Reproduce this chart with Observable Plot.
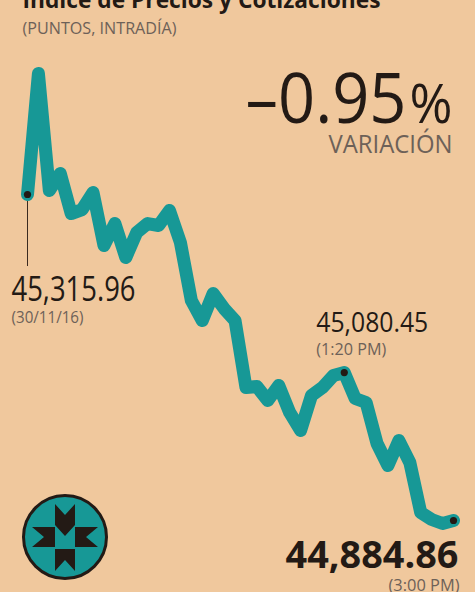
<!DOCTYPE html>
<html><head><meta charset="utf-8">
<script src="https://cdn.jsdelivr.net/npm/d3@7"></script>
<script src="https://cdn.jsdelivr.net/npm/@observablehq/plot@0.6"></script>
<style>
html,body{margin:0;padding:0;background:#f0c89d;}
#chart{position:relative;width:475px;height:592px;overflow:hidden;background:#f0c89d;}
#chart > #plotwrap{position:absolute;left:0;top:0;}
#chart > #logo{position:absolute;left:20px;top:491.5px;}
</style></head><body>
<div id="chart">
<div id="plotwrap"></div>
<svg id="logo" width="90" height="90" viewBox="-45 -45 90 90">
<circle r="41.5" fill="#179896" stroke="#231a15" stroke-width="3"/>
<path fill="#231a15" d="M-10,-33 L0,-22 L10,-33 L10,-12 L0,-1 L-10,-12Z M-10,12 L10,12 L10,34 L0,23 L-10,34Z M-33,-10 L-10,-10 L-10,10 L-33,10 L-21,0Z M10,-10 L33,-10 L21,0 L33,10 L10,10Z"/>
</svg>
</div>
<script>
const times = ["08:30","08:40","08:50","09:00","09:10","09:20","09:30","09:40","09:50","10:00",
  "10:10","10:20","10:30","10:40","10:50","11:00","11:10","11:20","11:30","11:40",
  "11:50","12:00","12:10","12:20","12:30","12:40","12:50","13:00","13:10","13:20",
  "13:30","13:40","13:50","14:00","14:10","14:20","14:30","14:40","14:50","15:00"];
const values = [45315.96,45476.0,45321.2,45343.7,45290.8,45296.1,45318.6,45248.5,45277.6,45232.6,
  45265.7,45277.6,45275.0,45294.8,45252.5,45175.8,45149.3,45185.0,45165.2,45149.3,
  45060.7,45062.0,45043.6,45063.4,45027.7,45003.9,45050.2,45060.7,45076.6,45080.45,
  45046.2,45040.9,44986.7,44957.6,44990.6,44961.6,44895.4,44886.2,44880.9,44884.86];
const title = "Índice de Precios y Cotizaciones";
const subtitle = "(PUNTOS, INTRADÍA)";
const changeLabel = "VARIACIÓN";
const annTimes = ["08:30","13:20","15:00"];
const annNotes = ["(30/11/16)","(1:20 PM)","(3:00 PM)"];

const parse = d3.timeParse("%H:%M");
const fmt = d3.format(",.2f");
const data = times.map((t,i)=>({time: parse(t), value: values[i]}));
const ann = annTimes.map((t,i)=>{const v = values[times.indexOf(t)]; return {time: parse(t), value: v, note: annNotes[i], label: fmt(v)};});
const first = values[0], last = values[values.length-1];
const pct = ((last/first - 1)*100).toFixed(2).replace("-", "–");

const dark = "#231a15", grey = "#6d6158", teal = "#179896";
const F = "Open Sans";

const plot = Plot.plot({
  width: 475, height: 592,
  marginLeft: 27, marginRight: 22, marginTop: 73, marginBottom: 69,
  x: {type: "time", domain: d3.extent(data, d => d.time), axis: null},
  y: {domain: d3.extent(values), axis: null},
  style: {background: "transparent", overflow: "visible"},
  marks: [
    Plot.text([title], {text: d => d, frameAnchor: "top-left", textAnchor: "start", lineAnchor: "bottom", dx: -5, dy: -66, fontSize: 24, fontWeight: 700, fontFamily: F, fill: dark}),
    Plot.text([subtitle], {text: d => d, frameAnchor: "top-left", textAnchor: "start", lineAnchor: "bottom", dx: -5, dy: -40, fontSize: 16.5, fontFamily: F, fill: grey}),
    Plot.text([pct], {text: d => d, frameAnchor: "top-right", textAnchor: "end", lineAnchor: "bottom", dx: -47, dy: 49, fontSize: 70, fontFamily: F, fill: dark}),
    Plot.text(["%"], {text: d => d, frameAnchor: "top-right", textAnchor: "end", lineAnchor: "bottom", dx: -1, dy: 49, fontSize: 54, fontFamily: F, fill: dark}),
    Plot.text([changeLabel], {text: d => d, frameAnchor: "top-right", textAnchor: "end", lineAnchor: "bottom", dx: -1, dy: 79, fontSize: 26, fontFamily: F, fill: grey}),
    Plot.ruleX([ann[0]], {x: "time", y1: "value", y2: "value", insetBottom: -72, stroke: "#3b2a1f", strokeWidth: 1}),
    Plot.line(data, {x: "time", y: "value", stroke: teal, strokeWidth: 13, strokeLinejoin: "round", strokeLinecap: "round"}),
    Plot.dot(ann, {x: "time", y: "value", r: 3.6, fill: dark, stroke: "none"}),
    Plot.text([ann[0]], {x: "time", y: "value", text: "label", textAnchor: "start", lineAnchor: "bottom", dx: -16, dy: 106, fontSize: 35, fontFamily: F, fill: dark}),
    Plot.text([ann[0]], {x: "time", y: "value", text: "note", textAnchor: "start", lineAnchor: "bottom", dx: -16, dy: 128, fontSize: 15.5, fontFamily: F, fill: grey}),
    Plot.text([ann[1]], {x: "time", y: "value", text: "label", textAnchor: "start", lineAnchor: "bottom", dx: -28, dy: -41, fontSize: 28, fontFamily: F, fill: dark}),
    Plot.text([ann[1]], {x: "time", y: "value", text: "note", textAnchor: "start", lineAnchor: "bottom", dx: -28, dy: -18, fontSize: 16, fontFamily: F, fill: grey}),
    Plot.text([ann[2]], {x: "time", y: "value", text: "label", textAnchor: "end", lineAnchor: "bottom", dx: 5, dy: 47, fontSize: 38, fontWeight: 700, fontFamily: F, fill: dark}),
    Plot.text([ann[2]], {x: "time", y: "value", text: "note", textAnchor: "end", lineAnchor: "bottom", dx: 6, dy: 70, fontSize: 16, fontFamily: F, fill: grey})
  ]
});
document.getElementById("plotwrap").appendChild(plot);

// fit text widths to the reference
const fit = new Map([
  [title, 358], [subtitle, 154], [pct, 161], ["%", 43], [changeLabel, 124],
  [ann[0].label, 124], [ann[0].note, 72], [ann[1].label, 112], [ann[1].note, 70],
  [ann[2].label, 173], [ann[2].note, 71]
]);
d3.select(plot).selectAll("text").each(function() {
  const w = fit.get(this.textContent);
  if (w) d3.select(this).attr("textLength", w).attr("lengthAdjust", "spacingAndGlyphs");
});
</script>
</body></html>
